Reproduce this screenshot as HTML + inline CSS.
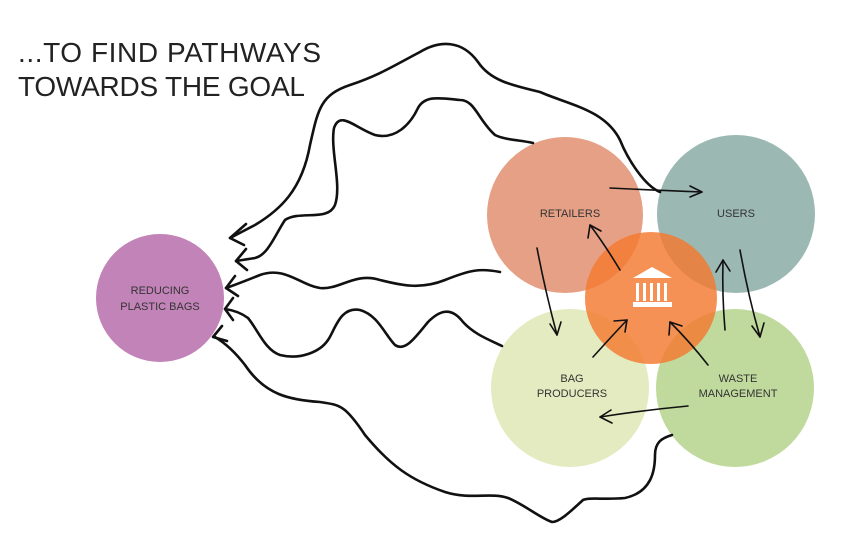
<!DOCTYPE html>
<html><head><meta charset="utf-8"><style>
html,body{margin:0;padding:0;background:#fff;}
svg{display:block;}
text{font-family:"Liberation Sans",sans-serif;}
</style></head><body>
<svg width="861" height="556" viewBox="0 0 861 556" xmlns="http://www.w3.org/2000/svg">
<text x="18" y="62" font-size="28" fill="#222" textLength="303">...TO FIND PATHWAYS</text>
<text x="18" y="96" font-size="28" fill="#222" textLength="287">TOWARDS THE GOAL</text>

<circle cx="160" cy="298" r="64" fill="#c283b8"/>
<text x="160" y="294" font-size="11" fill="#333" text-anchor="middle">REDUCING</text>
<text x="160" y="310" font-size="11" fill="#333" text-anchor="middle">PLASTIC BAGS</text>

<circle cx="565" cy="215" r="78" fill="#e5a086"/>
<circle cx="736" cy="214" r="79" fill="#9cb8b3"/>
<circle cx="570" cy="388" r="79" fill="#e4ebc1"/>
<circle cx="735" cy="388" r="79" fill="#c0da9d"/>
<circle cx="651" cy="298" r="66" fill="#f4792f" fill-opacity="0.82"/>

<g font-size="11" fill="#333" text-anchor="middle">
<text x="570" y="217">RETAILERS</text>
<text x="736" y="217">USERS</text>
<text x="572" y="382">BAG</text>
<text x="572" y="397">PRODUCERS</text>
<text x="738" y="382">WASTE</text>
<text x="738" y="397">MANAGEMENT</text>
</g>

<g fill="#fff">
<polygon points="633,278 652,267 672,278"/>
<rect x="636" y="283" width="3" height="18"/>
<rect x="643" y="283" width="3" height="18"/>
<rect x="650" y="283" width="3" height="18"/>
<rect x="657" y="283" width="3" height="18"/>
<rect x="664" y="283" width="3" height="18"/>
<rect x="633" y="302" width="39" height="5"/>
</g>

<g fill="none" stroke="#111" stroke-width="2.6" stroke-linecap="round" stroke-linejoin="round">
<!-- curve 1 -->
<path d="M660,192 C645,186 628,160 620,140 C605,110 570,105 540,92 C510,85 490,80 478,62 C462,40 440,40 420,52 C395,65 380,75 350,85 C320,95 318,110 310,145 C302,190 280,210 255,225 C245,230 238,234 230,238"/>
<path d="M246,224 L230,238 L244,245"/>
<!-- curve 2 -->
<path d="M533,143 C520,140 505,140 495,135 C478,120 475,100 460,100 C440,98 425,95 418,108 C410,125 395,140 375,135 C355,128 340,110 334,128 C330,150 342,185 335,205 C328,222 300,210 285,220 C275,235 268,255 255,258 C248,259 242,260 236,261"/>
<path d="M246,249 L236,261 L247,270"/>
<!-- curve 3 -->
<path d="M500,272 C480,268 470,270 445,280 C420,290 400,285 380,280 C355,272 340,290 320,288 C300,285 285,266 260,275 C245,281 235,285 226,288"/>
<path d="M235,276 L226,288 L238,296"/>
<!-- curve 4 -->
<path d="M502,346 C490,340 475,335 463,322 C450,305 438,312 428,322 C415,338 405,352 395,345 C385,335 378,315 360,310 C340,306 335,330 328,340 C320,352 300,360 280,355 C265,350 258,330 248,318 C240,312 232,310 225,309"/>
<path d="M233,298 L225,309 L233,320"/>
<!-- curve 5 -->
<path d="M672,435 C662,438 655,442 655,455 C655,470 652,492 625,498 C605,500 590,497 583,500 C572,510 560,522 552,522 C540,518 525,505 508,498 C490,492 470,500 445,492 C410,480 390,465 365,435 C345,405 340,405 320,402 C290,400 265,395 245,365 C235,352 225,343 215,337"/>
<path d="M222,326 L213,337 L227,341"/>
</g>

<g fill="none" stroke="#111" stroke-width="1.6" stroke-linecap="round" stroke-linejoin="round">
<path d="M610,188 Q650,190 702,192"/><path d="M690,186 L702,192 L690,197"/>
<path d="M620,270 Q605,245 590,225"/><path d="M588,238 L590,225 L601,231"/>
<path d="M537,248 Q545,290 557,335"/><path d="M550,324 L557,335 L561,322"/>
<path d="M593,357 Q610,338 627,320"/><path d="M614,321 L627,320 L625,332"/>
<path d="M708,365 Q690,342 670,322"/><path d="M669,335 L670,322 L682,326"/>
<path d="M725,330 Q722,295 723,260"/><path d="M716,272 L723,260 L730,271"/>
<path d="M740,250 Q748,295 760,337"/><path d="M752,326 L760,337 L764,323"/>
<path d="M688,406 Q645,410 600,417"/><path d="M611,410 L600,417 L612,423"/>
</g>
</svg>
</body></html>
